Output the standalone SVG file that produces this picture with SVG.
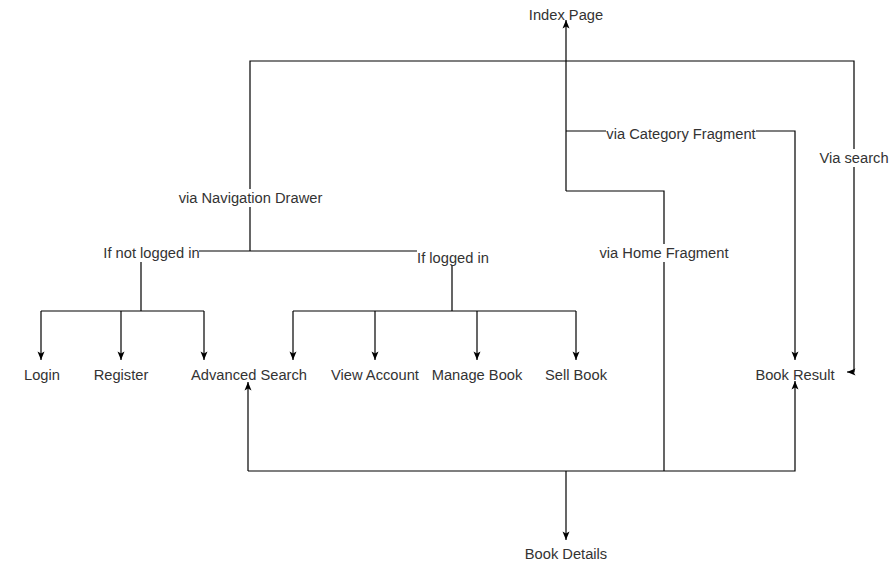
<svg xmlns="http://www.w3.org/2000/svg" width="892" height="563" viewBox="0 0 892 563">
<style>
.t{font-family:"Liberation Sans",Arial,sans-serif;font-size:14.7px;fill:#333;text-anchor:middle}
.e{fill:none;stroke:#000;stroke-width:1.2}
.bg{fill:#fff}
</style>
<defs>
<marker id="arr" viewBox="0 0 10 8" refX="9.5" refY="4" markerWidth="10" markerHeight="8" markerUnits="userSpaceOnUse" orient="auto">
<path d="M1,0.5 L9.5,4 L1,7.5 L3,4 z" fill="#000"/>
</marker>
</defs>
<rect width="892" height="563" fill="#fff"/>
<g id="connectors">
<path class="e" d="M566,191 L566,20" marker-end="url(#arr)"/>
<path class="e" d="M566,191 L664,191 L664,471"/>
<path class="e" d="M566,131 L795,131 L795,360" marker-end="url(#arr)"/>
<path class="e" d="M250,251 L250,61 L854,61 L854,372 L847,372" marker-end="url(#arr)"/>
<path class="e" d="M141,311 L141,251 L452,251 L452,311"/>
<path class="e" d="M41,311 L204,311"/>
<path class="e" d="M41,311 L41,360" marker-end="url(#arr)"/>
<path class="e" d="M121,311 L121,360" marker-end="url(#arr)"/>
<path class="e" d="M204,311 L204,360" marker-end="url(#arr)"/>
<path class="e" d="M293,311 L576,311"/>
<path class="e" d="M293,311 L293,360" marker-end="url(#arr)"/>
<path class="e" d="M375,311 L375,360" marker-end="url(#arr)"/>
<path class="e" d="M477,311 L477,360" marker-end="url(#arr)"/>
<path class="e" d="M576,311 L576,360" marker-end="url(#arr)"/>
<path class="e" d="M248,471 L248,382" marker-end="url(#arr)"/>
<path class="e" d="M248,471 L795,471 L795,381" marker-end="url(#arr)"/>
<path class="e" d="M566,471 L566,540" marker-end="url(#arr)"/>
<rect class="bg" x="177" y="189" width="148" height="18"/>
<text class="t" x="250.5" y="202.5">via Navigation Drawer</text>
<rect class="bg" x="606" y="125" width="150" height="18"/>
<text class="t" x="681" y="138.5">via Category Fragment</text>
<rect class="bg" x="818" y="149" width="73" height="18"/>
<text class="t" x="854" y="163">Via search</text>
<rect class="bg" x="598" y="244" width="132" height="18"/>
<text class="t" x="664" y="258">via Home Fragment</text>
<rect class="bg" x="104" y="245" width="95" height="17"/>
<text class="t" x="151.5" y="258">If not logged in</text>
<rect class="bg" x="417" y="250" width="72" height="15"/>
<text class="t" x="453" y="263">If logged in</text>
</g>
<g id="index-page"><text class="t" x="566" y="20">Index Page</text></g>
<g id="login"><text class="t" x="42" y="380">Login</text></g>
<g id="register"><text class="t" x="121" y="380">Register</text></g>
<g id="advanced-search"><text class="t" x="249" y="380">Advanced Search</text></g>
<g id="view-account"><text class="t" x="375" y="380">View Account</text></g>
<g id="manage-book"><text class="t" x="477" y="380">Manage Book</text></g>
<g id="sell-book"><text class="t" x="576" y="380">Sell Book</text></g>
<g id="book-result"><text class="t" x="795" y="380">Book Result</text></g>
<g id="book-details"><text class="t" x="566" y="559">Book Details</text></g>
</svg>
